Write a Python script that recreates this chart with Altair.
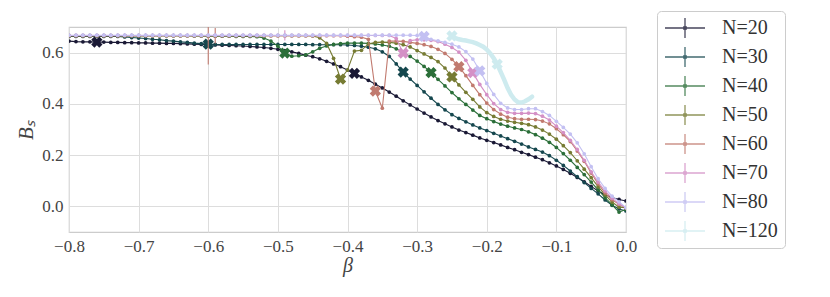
import altair as alt
import pandas as pd

# ---------------- data ----------------
BETA = [round(-0.80 + 0.01 * i, 2) for i in range(81)]          # x grid, step 0.01
BETA_120 = [round(-0.250 + 0.005 * i, 3) for i in range(24)]    # x grid for N=120

B20 = [0.645, 0.643, 0.642, 0.642, 0.641, 0.641, 0.640, 0.640, 0.639, 0.639,
       0.638, 0.638, 0.637, 0.637, 0.636, 0.636, 0.635, 0.634, 0.633, 0.632,
       0.631, 0.630, 0.629, 0.628, 0.627, 0.626, 0.624, 0.622, 0.620, 0.617,
       0.613, 0.608, 0.603, 0.597, 0.590, 0.584, 0.576, 0.566, 0.556, 0.545,
       0.532, 0.519, 0.505, 0.492, 0.477, 0.462, 0.446, 0.430, 0.412, 0.396,
       0.380, 0.364, 0.349, 0.335, 0.322, 0.310, 0.298, 0.288, 0.278, 0.267,
       0.258, 0.249, 0.240, 0.230, 0.221, 0.211, 0.202, 0.192, 0.182, 0.170,
       0.158, 0.144, 0.129, 0.113, 0.096, 0.078, 0.060, 0.045, 0.035, 0.027,
       0.021]

B30 = [0.663, 0.663, 0.663, 0.663, 0.663, 0.663, 0.663, 0.663, 0.661, 0.659,
       0.657, 0.655, 0.652, 0.650, 0.647, 0.645, 0.642, 0.640, 0.637, 0.635,
       0.633, 0.632, 0.632, 0.632, 0.632, 0.632, 0.632, 0.632, 0.632, 0.632,
       0.632, 0.632, 0.632, 0.632, 0.632, 0.631, 0.631, 0.631, 0.631, 0.631,
       0.630, 0.628, 0.625, 0.621, 0.615, 0.603, 0.585, 0.556, 0.524, 0.497,
       0.472, 0.447, 0.422, 0.398, 0.377, 0.358, 0.343, 0.330, 0.318, 0.306,
       0.296, 0.285, 0.275, 0.264, 0.254, 0.243, 0.232, 0.222, 0.212, 0.198,
       0.180, 0.160, 0.138, 0.116, 0.093, 0.070, 0.049, 0.025, 0.004, -0.010,
       -0.018]

B40 = [0.666, 0.666, 0.666, 0.666, 0.666, 0.666, 0.666, 0.666, 0.666, 0.666,
       0.666, 0.666, 0.666, 0.666, 0.666, 0.666, 0.666, 0.666, 0.665, 0.665,
       0.664, 0.664, 0.664, 0.664, 0.663, 0.663, 0.663, 0.662, 0.657, 0.645,
       0.625, 0.598, 0.586, 0.588, 0.591, 0.603, 0.617, 0.626, 0.632, 0.635,
       0.637, 0.637, 0.637, 0.636, 0.634, 0.630, 0.625, 0.615, 0.601, 0.585,
       0.567, 0.546, 0.522, 0.496, 0.470, 0.444, 0.420, 0.398, 0.376, 0.355,
       0.342, 0.331, 0.321, 0.313, 0.306, 0.300, 0.291, 0.280, 0.266, 0.250,
       0.230, 0.206, 0.180, 0.152, 0.124, 0.095, 0.064, 0.034, 0.006, -0.022,
       -0.012]

B50 = [0.666, 0.666, 0.666, 0.666, 0.666, 0.666, 0.666, 0.666, 0.666, 0.666,
       0.666, 0.666, 0.666, 0.666, 0.666, 0.666, 0.666, 0.666, 0.666, 0.666,
       0.666, 0.666, 0.666, 0.666, 0.666, 0.666, 0.666, 0.666, 0.666, 0.666,
       0.666, 0.666, 0.666, 0.666, 0.666, 0.665, 0.658, 0.636, 0.578, 0.497,
       0.532, 0.606, 0.609, 0.634, 0.640, 0.641, 0.640, 0.637, 0.631, 0.622,
       0.608, 0.595, 0.581, 0.565, 0.540, 0.505, 0.474, 0.445, 0.418, 0.388,
       0.366, 0.351, 0.340, 0.333, 0.328, 0.324, 0.319, 0.310, 0.298, 0.282,
       0.262, 0.237, 0.210, 0.178, 0.145, 0.112, 0.077, 0.045, 0.017, -0.003,
       -0.005]

B60 = [0.666, 0.666, 0.666, 0.666, 0.666, 0.666, 0.666, 0.666, 0.666, 0.666,
       0.666, 0.666, 0.666, 0.666, 0.666, 0.666, 0.666, 0.666, 0.666, 0.666,
       0.666, 0.666, 0.666, 0.666, 0.666, 0.666, 0.666, 0.666, 0.666, 0.666,
       0.666, 0.666, 0.666, 0.666, 0.666, 0.666, 0.666, 0.666, 0.666, 0.666,
       0.664, 0.662, 0.660, 0.652, 0.450, 0.383, 0.645, 0.645, 0.644, 0.640,
       0.636, 0.631, 0.624, 0.613, 0.597, 0.574, 0.545, 0.510, 0.472, 0.436,
       0.403, 0.378, 0.360, 0.348, 0.342, 0.340, 0.340, 0.339, 0.333, 0.322,
       0.303, 0.280, 0.253, 0.216, 0.176, 0.130, 0.088, 0.053, 0.026, 0.008,
       -0.005]

B70 = [0.667, 0.667, 0.667, 0.667, 0.667, 0.667, 0.667, 0.667, 0.667, 0.667,
       0.667, 0.667, 0.667, 0.667, 0.667, 0.667, 0.667, 0.667, 0.667, 0.667,
       0.667, 0.667, 0.667, 0.667, 0.667, 0.667, 0.667, 0.667, 0.667, 0.667,
       0.667, 0.667, 0.667, 0.667, 0.667, 0.667, 0.667, 0.667, 0.667, 0.667,
       0.667, 0.667, 0.667, 0.667, 0.667, 0.667, 0.667, 0.655, 0.598, 0.647,
       0.650, 0.650, 0.648, 0.643, 0.633, 0.620, 0.602, 0.570, 0.522, 0.476,
       0.436, 0.401, 0.378, 0.367, 0.363, 0.363, 0.364, 0.362, 0.352, 0.337,
       0.313, 0.288, 0.258, 0.222, 0.180, 0.135, 0.095, 0.060, 0.032, 0.010,
       -0.005]

B80 = [0.668, 0.668, 0.668, 0.668, 0.668, 0.668, 0.668, 0.668, 0.668, 0.668,
       0.668, 0.668, 0.668, 0.668, 0.668, 0.668, 0.668, 0.668, 0.668, 0.668,
       0.668, 0.668, 0.668, 0.668, 0.668, 0.668, 0.668, 0.668, 0.668, 0.668,
       0.668, 0.668, 0.668, 0.668, 0.668, 0.668, 0.668, 0.668, 0.668, 0.668,
       0.668, 0.668, 0.668, 0.668, 0.668, 0.668, 0.668, 0.668, 0.668, 0.668,
       0.667, 0.663, 0.652, 0.646, 0.640, 0.633, 0.622, 0.604, 0.575, 0.529,
       0.480, 0.437, 0.402, 0.384, 0.378, 0.378, 0.381, 0.381, 0.370, 0.355,
       0.332, 0.308, 0.282, 0.248, 0.205, 0.155, 0.108, 0.070, 0.040, 0.018,
       -0.005]

B120 = [0.665, 0.657, 0.652, 0.649, 0.647, 0.644, 0.641, 0.636, 0.630, 0.623,
        0.612, 0.597, 0.578, 0.555, 0.525, 0.495, 0.462, 0.435, 0.417, 0.406,
        0.405, 0.410, 0.418, 0.428]

LABELS = ["N=20", "N=30", "N=40", "N=50", "N=60", "N=70", "N=80", "N=120"]
COLORS = ["#1a1935", "#15474e", "#2b6f39", "#767b33", "#c17a6f", "#d490c6",
          "#c3c0f2", "#ceebef"]
VALUES = [B20, B30, B40, B50, B60, B70, B80, B120]
GRIDS = [BETA, BETA, BETA, BETA, BETA, BETA, BETA, BETA_120]

# positions (beta) of the "X" markers of each series
XMARK_BETA = [[-0.76, -0.39], [-0.60, -0.32], [-0.49, -0.28], [-0.41, -0.25],
              [-0.36, -0.24], [-0.32, -0.22], [-0.29, -0.21], [-0.25, -0.185]]

# visible error bars: series, beta, half-width
ERR_N = ["N=60", "N=60", "N=70"]
ERR_BETA = [-0.60, -0.59, -0.49]
ERR_HALF = [0.112, 0.030, 0.020]

# ---------------- chart ----------------
FONT = "'Liberation Serif', 'Times New Roman', serif"

x_enc = alt.X("beta:Q",
              scale=alt.Scale(domain=[-0.8, 0.0], nice=False, zero=False),
              axis=alt.Axis(values=[-0.8, -0.7, -0.6, -0.5, -0.4, -0.3, -0.2, -0.1, 0.0],
                            format=".1f", title="β", titleFontStyle="italic",
                            labelFlush=False, labelPadding=6,
                            titleY=33, titleBaseline="middle", titleFontSize=20))
y_enc = alt.Y("val:Q",
              scale=alt.Scale(domain=[-0.1, 0.7], nice=False, zero=False),
              axis=alt.Axis(values=[0.0, 0.2, 0.4, 0.6], format=".1f",
                            title="Bₛ", titleFontStyle="italic",
                            labelPadding=6, titlePadding=5))
y_lo = alt.Y("lo:Q", scale=alt.Scale(domain=[-0.1, 0.7], nice=False, zero=False),
             axis=alt.Axis(values=[0.0, 0.2, 0.4, 0.6], format=".1f",
                           title="Bₛ", titleFontStyle="italic",
                           labelPadding=6, titlePadding=5))

legend = alt.Legend(
    title=None, orient="none", legendX=588, legendY=-16,
    symbolType="M-1,0H1M0,-0.5V0.5M-0.06,-0.06H0.06V0.06H-0.06Z",
    symbolSize=1600, symbolStrokeWidth=1.3, symbolOpacity=0.8,
    clipHeight=20, rowPadding=9, padding=7, labelOffset=16,
    labelFont=FONT, labelFontSize=20, labelColor="#333333",
    strokeColor="#cccccc", fillColor="white", cornerRadius=4)
color_enc = alt.Color("N:N", scale=alt.Scale(domain=LABELS, range=COLORS), legend=legend)

layers = []
for label, vals, grid, xb in zip(LABELS, VALUES, GRIDS, XMARK_BETA):
    df = pd.DataFrame({"beta": grid, "val": vals, "N": label})
    thick = label == "N=120"
    layers.append(alt.Chart(df).mark_line(strokeWidth=4.5 if thick else 1.1,
                                          strokeCap="round", clip=True)
                  .encode(x=x_enc, y=y_enc, color=color_enc))
    if not thick:
        layers.append(alt.Chart(df).mark_circle(size=14, opacity=1, clip=True)
                      .encode(x=x_enc, y=y_enc, color=color_enc))
    lut = dict(zip(grid, vals))
    eb = [(b, h) for n, b, h in zip(ERR_N, ERR_BETA, ERR_HALF) if n == label]
    if eb:
        dfe = pd.DataFrame({"beta": [b for b, _ in eb],
                            "lo": [lut[b] - h for b, h in eb],
                            "hi": [lut[b] + h for b, h in eb],
                            "N": label})
        layers.append(alt.Chart(dfe).mark_rule(strokeWidth=1.1, clip=True)
                      .encode(x=x_enc, y=y_lo, y2="hi:Q", color=color_enc))
    dfx = pd.DataFrame({"beta": xb, "val": [lut[b] for b in xb], "N": label})
    layers.append(alt.Chart(dfx).mark_point(shape="cross", angle=45, filled=True,
                                            size=130, opacity=1, strokeWidth=0)
                  .encode(x=x_enc, y=y_enc, color=color_enc))

chart = (alt.layer(*layers)
         .properties(width=557, height=205,
                     autosize=alt.AutoSizeParams(type="none"),
                     padding={"left": 61, "top": 19, "right": 196, "bottom": 57})
         .configure_axis(grid=True, gridColor="#dddddd", gridWidth=1,
                         domain=False, ticks=False,
                         labelFont=FONT, labelFontSize=17, labelColor="#444444",
                         titleFont=FONT, titleFontSize=21, titleColor="#444444",
                         titleFontWeight="normal")
         .configure_view(stroke="#cccccc", strokeWidth=1.2))

chart.save("out.html", embed_options={"renderer": "svg", "actions": False})
